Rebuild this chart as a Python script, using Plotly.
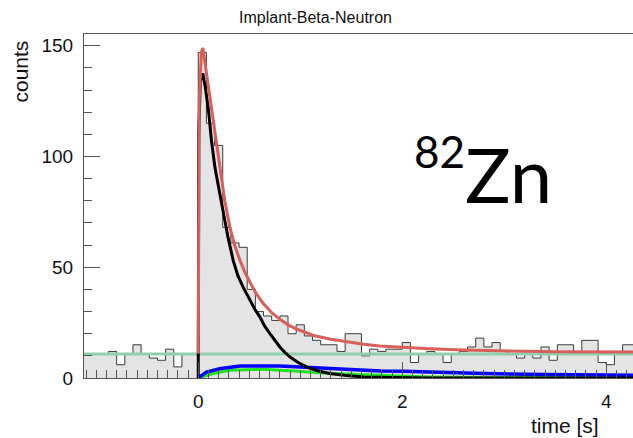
import numpy as np
import plotly.graph_objects as go

# ---------------- data ----------------
bin_width = 0.08
first_edge = -1.12
counts = [11, 11, 11, 12, 6, 11, 15, 11, 9, 8, 13, 5, 11, 11,          # t < 0
          147, 115, 105, 68, 61, 59, 40, 30, 28, 26, 28, 20, 24, 19,
          17, 15, 15, 12, 20, 20, 10, 13, 12, 13, 13, 16, 7, 11,
          12, 11, 7, 11, 12, 14, 18, 14, 16, 12, 11, 9, 11, 9,
          14, 8, 15, 15, 12, 17, 17, 7, 6, 12, 15, 15]

total_t = [0, 0.01, 0.03, 0.045, 0.07, 0.10, 0.13, 0.165, 0.20, 0.23, 0.26, 0.31,
           0.36, 0.41, 0.46, 0.51, 0.57, 0.64, 0.72, 0.80, 0.88, 0.97, 1.05, 1.13,
           1.30, 1.46, 1.62, 1.78, 2.0, 2.27, 2.6, 3.0, 3.5, 4.3]
total_v = [11, 125, 147, 149, 141, 131, 121, 111, 99, 88, 80, 68,
           59.5, 53, 47.5, 43, 38, 33.5, 29.5, 26.5, 24, 22, 20.5, 19.2,
           17.5, 16.2, 15.2, 14.4, 13.8, 13.2, 12.6, 12.1, 11.8, 11.7]

parent_t = [0, 0.005, 0.02, 0.045, 0.07, 0.10, 0.13, 0.164, 0.20, 0.229, 0.26, 0.294,
            0.343, 0.39, 0.44, 0.507, 0.555, 0.605, 0.65, 0.703, 0.75, 0.80, 0.85,
            0.90, 0.98, 1.06, 1.17, 1.29, 1.45, 1.62, 1.9, 2.3, 4.3]
parent_v = [0, 110, 134, 137.5, 131, 121, 107, 95, 86, 79, 71, 63,
            53, 46, 41, 35, 31, 27.5, 23.5, 20, 17, 14, 11.5,
            9.5, 7, 5, 3.3, 2, 1.1, 0.5, 0.2, 0.05, 0]

daughter_t = [0, 0.08, 0.21, 0.41, 0.80, 1.30, 1.79, 2.0, 2.3, 2.8, 3.4, 4.3]
daughter_v = [0, 2.7, 4.2, 5.4, 5.4, 4.2, 3.2, 3.0, 2.5, 2.0, 1.6, 1.2]

gdaughter_t = [0, 0.15, 0.31, 0.64, 0.97, 1.29, 1.78, 2.27, 2.9, 3.9]
gdaughter_v = [0, 2.0, 3.5, 3.9, 3.0, 2.0, 1.2, 0.5, 0.2, 0.1]

background_t = [-1.2, 4.4]
background_v = [10.8, 10.8]

x_range = [-1.12, 4.262]
y_range = [0, 155.3]

# ---------------- layout geometry ----------------
W, H = 633, 438
L, R, T, B = 84, 0, 33.5, 60.3
PW, PH = W - L - R, H - T - B

def px(xp):
    return (xp - L) / PW

def py(yp):
    return (H - B - yp) / PH

edges = first_edge + bin_width * np.arange(len(counts) + 1)
hx = list(edges[:-1]) + [edges[-1]]
hy = list(counts) + [counts[-1]]

fig = go.Figure()
fig.add_trace(go.Scatter(x=hx, y=hy, mode="lines", line=dict(shape="hv", color="#3a3a3a", width=1),
                         fill="tozeroy", fillcolor="#e4e4e4", hoverinfo="skip"))
fig.add_trace(go.Scatter(x=background_t, y=background_v, mode="lines",
                         line=dict(color="#8fcfb0", width=3)))
fig.add_trace(go.Scatter(x=gdaughter_t, y=gdaughter_v, mode="lines",
                         line=dict(color="#1ee61e", width=3)))
fig.add_trace(go.Scatter(x=daughter_t, y=daughter_v, mode="lines",
                         line=dict(color="#0000ff", width=3.5)))
fig.add_trace(go.Scatter(x=parent_t, y=parent_v, mode="lines",
                         line=dict(color="#000000", width=3)))
fig.add_trace(go.Scatter(x=total_t, y=total_v, mode="lines",
                         line=dict(color="#d9605a", width=3)))

tick_font = dict(family="Liberation Sans, Arial, sans-serif", size=19, color="#111")
title_font = dict(family="Liberation Sans, Arial, sans-serif", size=21, color="#111")
fig.update_layout(
    width=W, height=H, showlegend=False,
    margin=dict(l=L, r=R, t=T, b=B, pad=0),
    paper_bgcolor="white", plot_bgcolor="white",
    xaxis=dict(range=x_range, showgrid=False, zeroline=False,
               showline=True, linecolor="#555", linewidth=1.2, mirror=True,
               ticks="inside", tick0=0, dtick=2, ticklen=16, tickwidth=1.2, tickcolor="#555",
               minor=dict(ticks="inside", dtick=0.1, tick0=0, ticklen=8, tickwidth=1.2, tickcolor="#555"),
               tickfont=tick_font, ticklabelstandoff=6),
    yaxis=dict(range=y_range, showgrid=False, zeroline=False,
               showline=True, linecolor="#555", linewidth=1.2,
               ticks="inside", tick0=0, dtick=50, ticklen=16, tickwidth=1.2, tickcolor="#555",
               minor=dict(ticks="inside", dtick=10, tick0=0, ticklen=8, tickwidth=1.2, tickcolor="#555"),
               tickfont=tick_font, ticklabelstandoff=6),
    annotations=[
        dict(text="Implant-Beta-Neutron", xref="paper", yref="paper", x=px(315), y=py(17),
             xanchor="center", yanchor="middle", showarrow=False,
             font=dict(family="Liberation Sans, Arial, sans-serif", size=16, color="#111")),
        dict(text="counts", xref="paper", yref="paper", x=px(20), y=py(38),
             xanchor="center", yanchor="top", textangle=-90, showarrow=False, font=title_font),
        dict(text="time [s]", xref="paper", yref="paper", x=px(601), y=py(425),
             xanchor="right", yanchor="middle", showarrow=False, font=title_font),
        dict(text="82", xref="paper", yref="paper", x=px(412), y=py(151),
             xanchor="left", yanchor="middle", showarrow=False,
             font=dict(family="Lato, Liberation Sans, sans-serif", size=44, color="#000")),
        dict(text="Zn", xref="paper", yref="paper", x=px(463), y=py(173),
             xanchor="left", yanchor="middle", showarrow=False,
             font=dict(family="Lato, Liberation Sans, sans-serif", size=76, color="#000")),
    ],
)

fig.write_html("out.html")
